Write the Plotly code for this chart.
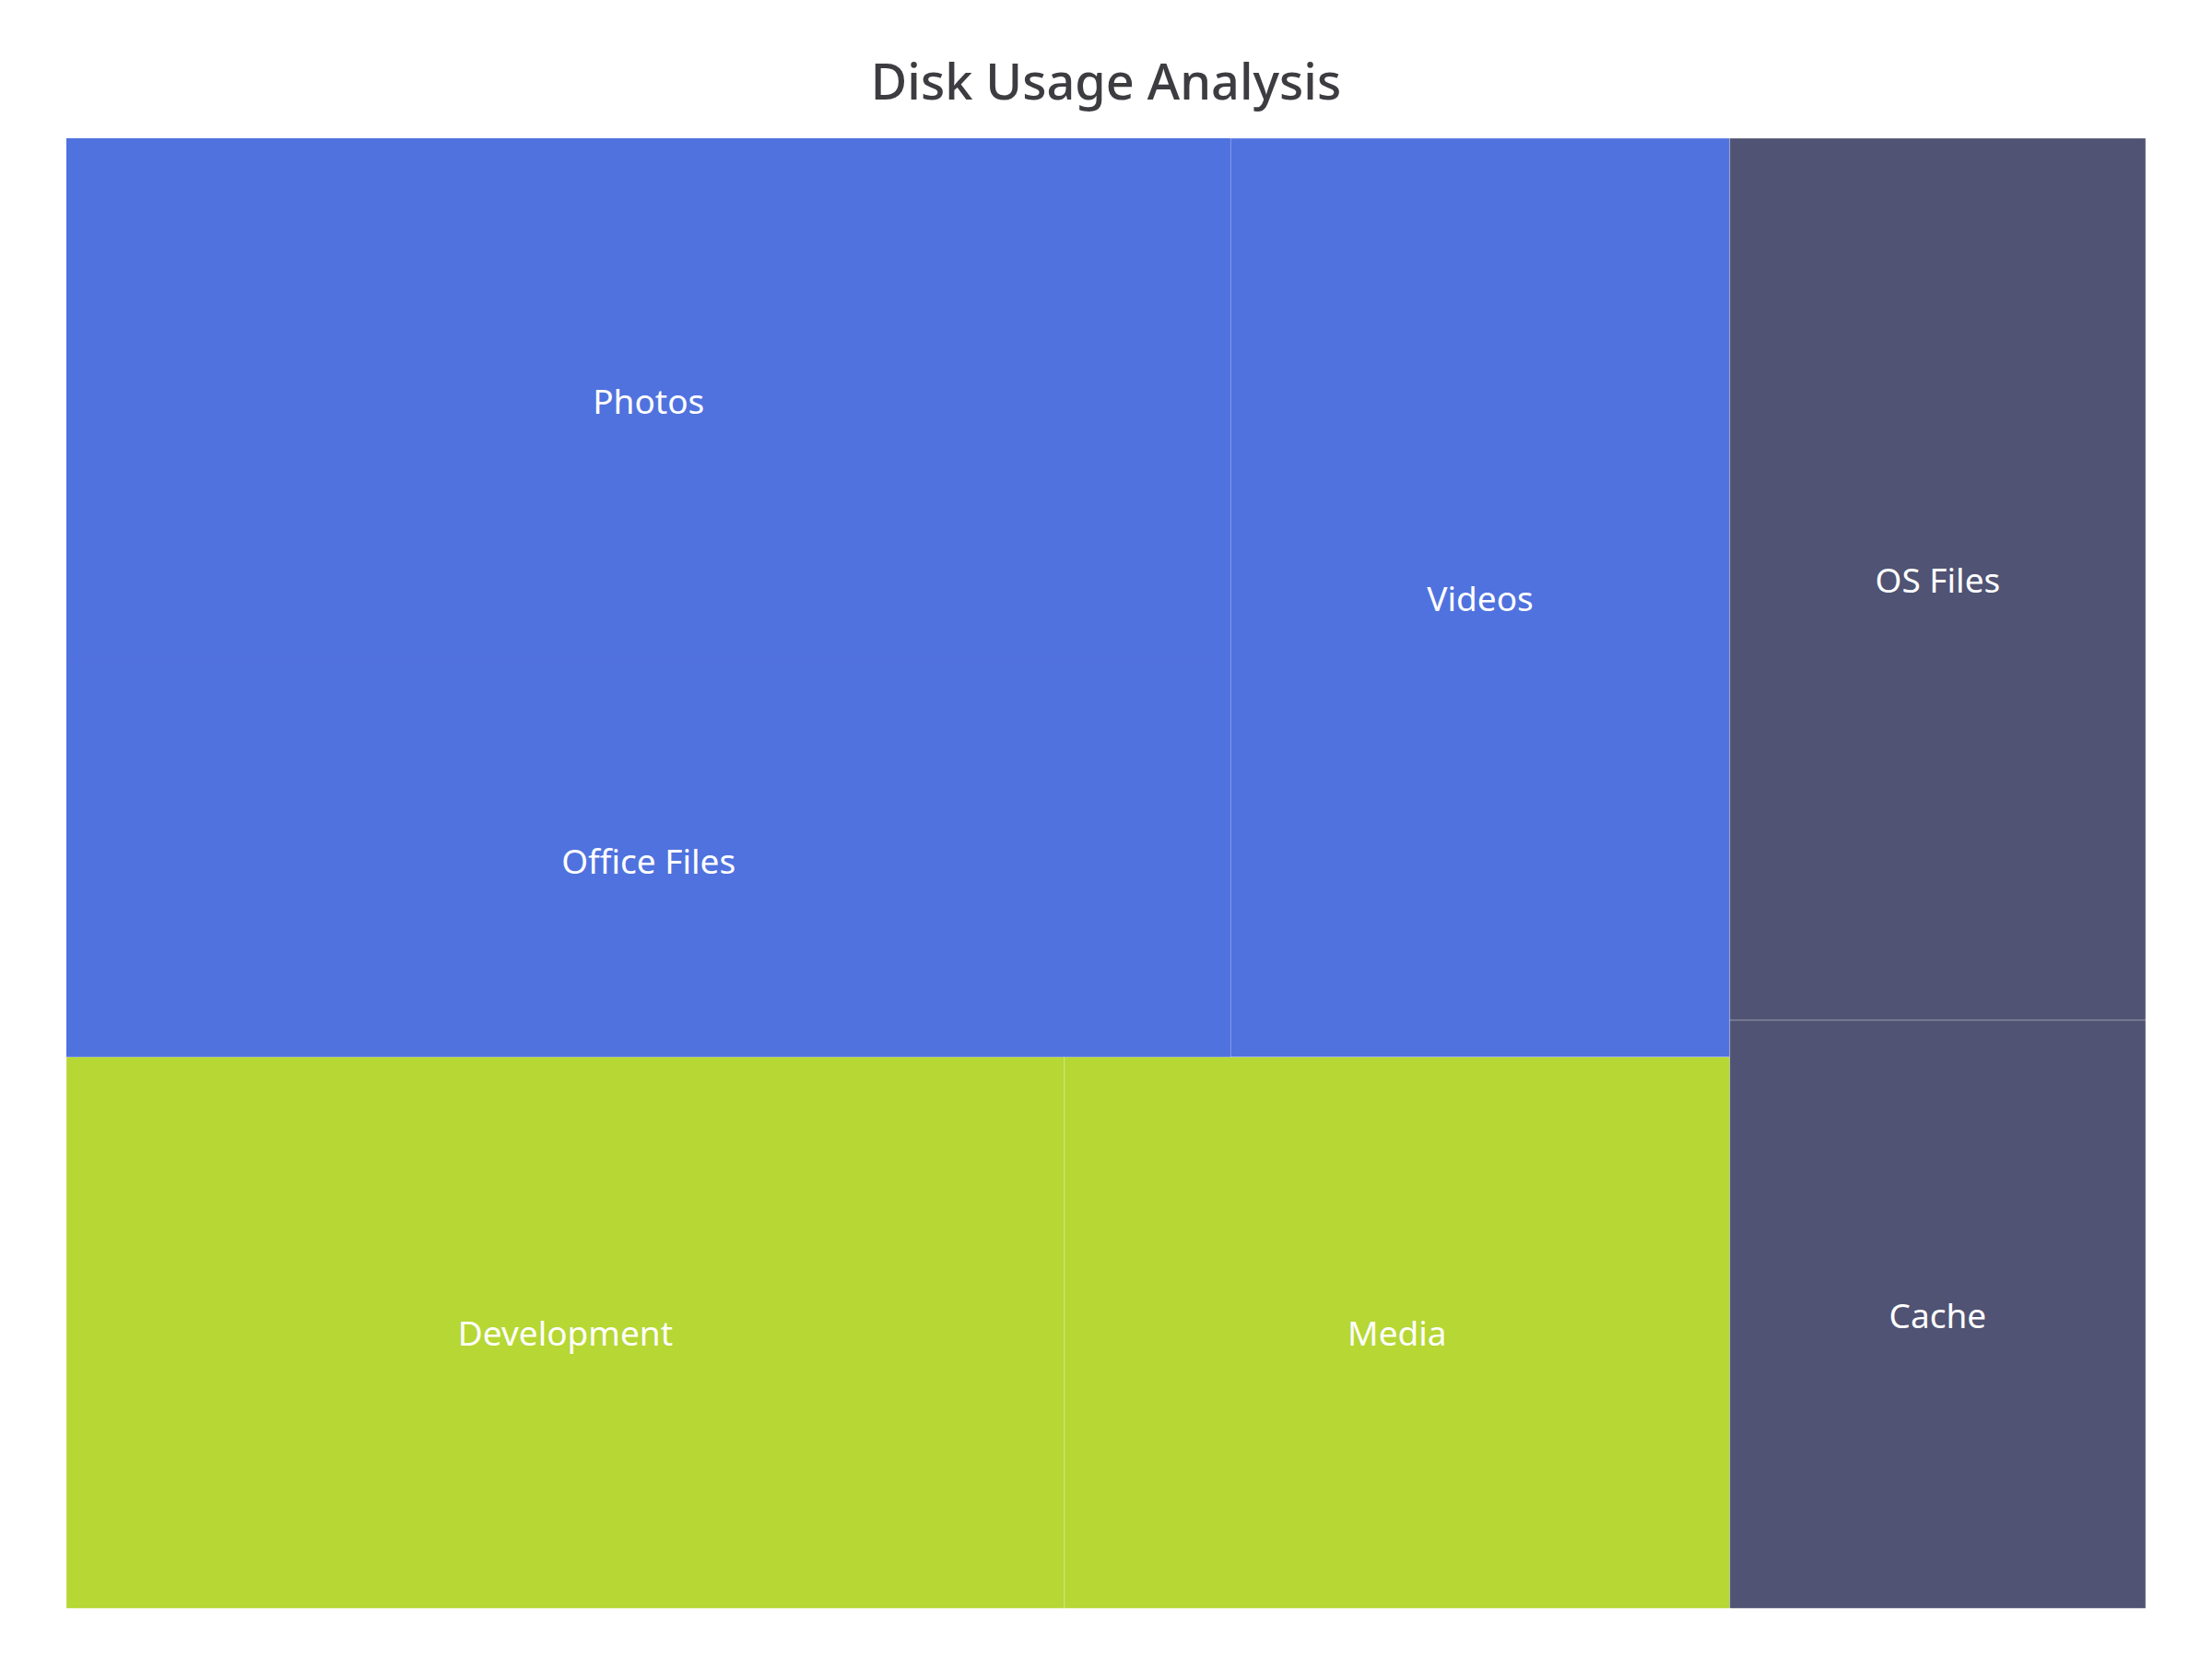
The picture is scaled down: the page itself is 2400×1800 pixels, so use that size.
import plotly.graph_objects as go

# Hierarchy data
groups = ["User Data", "Applications", "System"]
group_colors = ["#5072DE", "#B6D734", "#505373"]

leaf_labels = ["Photos", "Office Files", "Videos", "Development", "Media", "OS Files", "Cache"]
leaf_parents = ["User Data", "User Data", "User Data", "Applications", "Applications", "System", "System"]
leaf_values = [20, 15, 15, 18, 12, 12, 8]

group_values = [sum(v for v, p in zip(leaf_values, leaf_parents) if p == g) for g in groups]
color_of = dict(zip(groups, group_colors))

ids = groups + leaf_labels
labels = groups + leaf_labels
parents = [""] * len(groups) + leaf_parents
values = group_values + leaf_values
colors = group_colors + [color_of[p] for p in leaf_parents]
texts = [""] * len(groups) + ["%{label}"] * len(leaf_labels)
line_widths = [1] * len(groups) + [0 if l in ("Photos", "Office Files") else 1 for l in leaf_labels]

fig = go.Figure(go.Treemap(
    ids=ids,
    labels=labels,
    parents=parents,
    values=values,
    branchvalues="total",
    sort=True,
    texttemplate=texts,
    textposition="middle center",
    textfont=dict(family="Noto Sans", size=37, color="white"),
    marker=dict(
        colors=colors,
        line=dict(width=line_widths, color="rgba(255,255,255,0.3)"),
        pad=dict(t=0, l=0, r=0, b=0),
    ),
    tiling=dict(squarifyratio=1.618034, pad=0),
    pathbar=dict(visible=False),
    root=dict(color="white"),
))

fig.update_layout(
    width=2400,
    height=1800,
    margin=dict(l=72, r=72, t=150, b=55),
    paper_bgcolor="white",
    title=dict(
        text="Disk Usage Analysis",
        x=0.5,
        xanchor="center",
        yref="container",
        y=1 - 89 / 1800,
        yanchor="middle",
        font=dict(family="Noto Sans", size=54, color="#3c3c41", weight=500),
    ),
    font=dict(family="Noto Sans"),
)

fig.write_html("out.html")
